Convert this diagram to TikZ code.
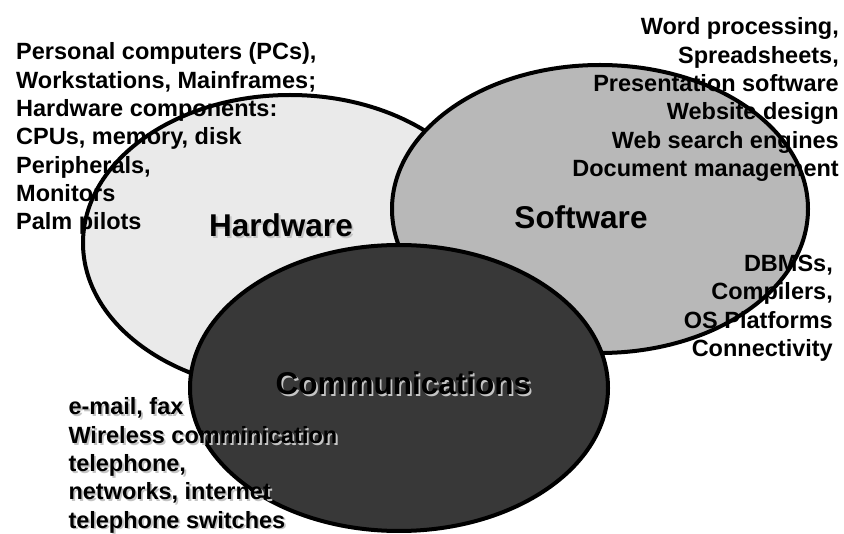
\documentclass[tikz,border=0pt]{standalone}
\usepackage{fontspec}
\setmainfont{Liberation Sans}
\definecolor{hwfill}{HTML}{EAEAEA}
\definecolor{swfill}{HTML}{B8B8B8}
\definecolor{comfill}{HTML}{383838}
\definecolor{shadowgray}{HTML}{C4C4C4}
% a block of lines whose baseline is that of its first line
\newcommand{\lines}[2]{\begin{tabular}[t]{@{}#1@{}}#2\end{tabular}}
% text with a light drop shadow behind it, offset down and to the right
\newcommand{\withshadow}[1]{\rlap{\kern1.8pt\raisebox{-1.8pt}{\color{shadowgray}#1}}#1}
\begin{document}
\begin{tikzpicture}[x=1pt,y=-1pt,
  setshape/.style={draw=black, line width=4pt},
  listtext/.style={inner sep=0pt, font=\bfseries\fontsize{23.5}{28.3}\selectfont},
  titletext/.style={inner sep=0pt, font=\bfseries\fontsize{31.5}{36}\selectfont}]
\useasboundingbox (0,0) rectangle (844,534);

% the three overlapping sets
\draw[setshape, fill=hwfill] (290,243) ellipse [x radius=207pt, y radius=148pt];
\draw[setshape, fill=swfill] (600,209) ellipse [x radius=208pt, y radius=144pt];
\draw[setshape, fill=comfill] (399,388) ellipse [x radius=209pt, y radius=143pt];

% set titles
\node[titletext, anchor=base] (hw) at (281,236.7) {\withshadow{Hardware}};
\node[titletext, anchor=base] (sw) at (581,229) {Software};
\node[titletext, anchor=base] (com) at (403.3,395) {\withshadow{Communications}};

% hardware items
\node[listtext, anchor=base west] (hw-items) at (16,60) {\lines{l}{%
Personal computers (PCs),\\
Workstations, Mainframes;\\
Hardware components:\\
CPUs, memory, disk\\
Peripherals,\\
Monitors\\
Palm pilots}};

% software items
\node[listtext, anchor=base east] (sw-apps) at (839,35) {\lines{r}{%
Word processing,\\
Spreadsheets,\\
Presentation software\\
Website design\\
Web search engines\\
Document management}};
\node[listtext, anchor=base east] (sw-system) at (833,271.7) {\lines{r}{%
DBMSs,\\
Compilers,\\
OS Platforms\\
Connectivity}};

% communications items
\node[listtext, anchor=base west] (com-items) at (68.3,415) {\withshadow{\lines{l}{%
e-mail, fax\\
Wireless comminication\\
telephone,\\
networks, internet\\
telephone switches}}};
\end{tikzpicture}
\end{document}
